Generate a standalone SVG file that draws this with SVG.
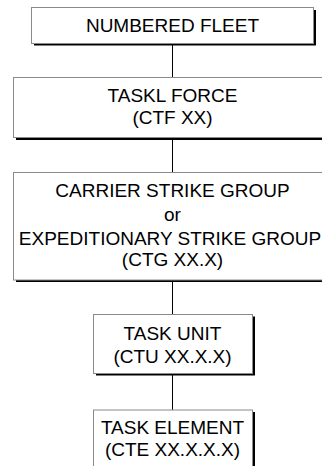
<svg xmlns="http://www.w3.org/2000/svg" width="322" height="466" viewBox="0 0 322 466">
<style>
.shadow{fill:#000}
.box{fill:#fff;stroke:#8a8a8a;stroke-width:1}
.t{font-family:"Liberation Sans",Arial,sans-serif;font-size:19px;fill:#000;text-anchor:middle}
.conn{stroke:#000;stroke-width:1;fill:none}
</style>
<rect width="322" height="466" fill="#fff"/>
<g id="connectors">
<line class="conn" x1="172.5" y1="44" x2="172.5" y2="78"/>
<line class="conn" x1="172.5" y1="139" x2="172.5" y2="173"/>
<line class="conn" x1="172.5" y1="281" x2="172.5" y2="314"/>
<line class="conn" x1="172.5" y1="375" x2="172.5" y2="410"/>
</g>
<g id="numbered-fleet">
<rect class="shadow" x="34" y="10" width="282" height="35.5"/>
<rect class="box" x="31.5" y="7.5" width="282" height="36"/>
<text class="t" x="172.5" y="32">NUMBERED FLEET</text>
</g>
<g id="task-force">
<rect class="shadow" x="16" y="80" width="320" height="60"/>
<rect class="box" x="13.5" y="77.5" width="318" height="60"/>
<text class="t" x="172.5" y="102">TASKL FORCE</text>
<text class="t" x="172.5" y="124">(CTF XX)</text>
</g>
<g id="strike-group">
<rect class="shadow" x="16" y="175" width="320" height="107"/>
<rect class="box" x="13.5" y="172.5" width="318" height="107.5"/>
<text class="t" x="172.5" y="197">CARRIER STRIKE GROUP</text>
<text class="t" x="172.5" y="221">or</text>
<text class="t" x="170" y="245">EXPEDITIONARY STRIKE GROUP</text>
<text class="t" x="172.5" y="266">(CTG XX.X)</text>
</g>
<g id="task-unit">
<rect class="shadow" x="96" y="316.5" width="159" height="59"/>
<rect class="box" x="93.5" y="314.5" width="159" height="59"/>
<text class="t" x="172.5" y="339.5">TASK UNIT</text>
<text class="t" x="172.5" y="362.5">(CTU XX.X.X)</text>
</g>
<g id="task-element">
<rect class="shadow" x="96" y="412" width="159" height="70"/>
<rect class="box" x="93.5" y="410" width="159" height="70"/>
<text class="t" x="172.5" y="433.5">TASK ELEMENT</text>
<text class="t" x="172.5" y="456">(CTE XX.X.X.X)</text>
</g>
</svg>
